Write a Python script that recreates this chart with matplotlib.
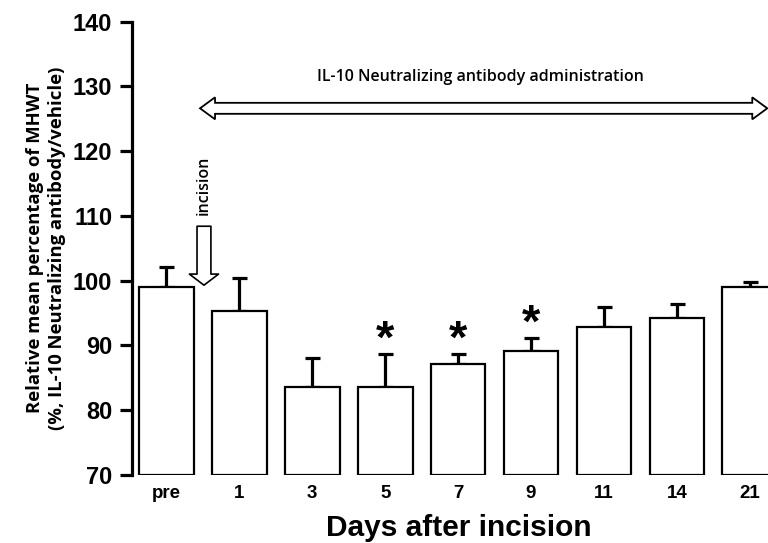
import matplotlib
matplotlib.use("Agg")
import matplotlib.pyplot as plt
from matplotlib.patches import FancyArrowPatch, ArrowStyle, Polygon
from matplotlib.transforms import IdentityTransform

# data
days = ["pre", "1", "3", "5", "7", "9", "11", "14", "21"]
mean_mhwt = [99.0, 95.3, 83.6, 83.6, 87.1, 89.1, 92.8, 94.2, 99.0]
sem_mhwt = [3.1, 5.1, 4.5, 5.1, 1.6, 2.0, 3.1, 2.2, 0.8]
significant = [False, False, False, True, True, True, False, False, False]
y_ticks = [70, 80, 90, 100, 110, 120, 130, 140]

plt.rcParams['font.family'] = ['Liberation Sans', 'DejaVu Sans']
calibri_like = ["Open Sans", "DejaVu Sans"]

fig = plt.figure(figsize=(7.68, 5.43), dpi=100)
ax = fig.add_axes([0.1715, 0.1252, 0.8285, 0.8352])

x = list(range(len(days)))
ax.bar(x, [m - 70 for m in mean_mhwt], bottom=70, width=0.75,
       color="white", edgecolor="black", linewidth=1.6, zorder=3)
ax.errorbar(x, mean_mhwt, yerr=[[0] * len(x), sem_mhwt], fmt="none",
            ecolor="black", elinewidth=2.3, capsize=5.4, capthick=2.3, zorder=2)

for i, sig in enumerate(significant):
    if sig:
        ax.text(x[i], mean_mhwt[i] + sem_mhwt[i] + 0.2, "*", ha="center",
                va="baseline", fontsize=34, fontweight="bold")

ax.set_xlim(-0.477, 8.25)
ax.set_ylim(70, 140)
ax.set_yticks(y_ticks)
ax.set_xticks(x)
ax.set_xticklabels(days)

for side in ["top", "right", "bottom"]:
    ax.spines[side].set_visible(False)
ax.spines["left"].set_linewidth(2.3)
ax.tick_params(axis="y", length=8.5, width=2.3, pad=5.5, labelsize=17)
ax.tick_params(axis="x", length=0, pad=7, labelsize=13.5)
for lab in ax.get_yticklabels() + ax.get_xticklabels():
    lab.set_fontweight("bold")

ax.set_xlabel("Days after incision", fontsize=21.5, fontweight="bold", labelpad=9)
ax.xaxis.label.set_x(0.514)
ax.set_ylabel("Relative mean percentage of MHWT\n(%, IL-10 Neutralizing antibody/vehicle)",
              fontsize=13.3, fontweight="bold", labelpad=5, linespacing=1.3,
              family=calibri_like)

# antibody administration double arrow, outline built in pixels
(x0, yc), (x1, _) = ax.transData.transform([(0.46, 126.6), (8.24, 126.6)])
hl, hw, tw = 15, 11, 5.5
verts = [(x0, yc), (x0 + hl, yc + hw), (x0 + hl, yc + tw), (x1 - hl, yc + tw),
         (x1 - hl, yc + hw), (x1, yc), (x1 - hl, yc - hw), (x1 - hl, yc - tw),
         (x0 + hl, yc - tw), (x0 + hl, yc - hw)]
admin = Polygon(verts, closed=True, transform=IdentityTransform(),
                facecolor="white", edgecolor="black", linewidth=1.3, zorder=4)
fig.add_artist(admin)
ax.text(4.3, 131.4, "IL-10 Neutralizing antibody administration", ha="center",
        va="center", fontsize=11.5, fontweight="semibold", family=calibri_like)

# incision arrow
incision = FancyArrowPatch((0.514, 108.4), (0.514, 99.3),
                           arrowstyle=ArrowStyle("simple", head_length=8, head_width=21, tail_width=10),
                           mutation_scale=1, shrinkA=0, shrinkB=0,
                           facecolor="white", edgecolor="black", linewidth=1.2, zorder=4)
ax.add_patch(incision)
ax.text(0.514, 114.7, "incision", rotation=90, ha="center", va="center",
        fontsize=11.5, fontweight="semibold", family=calibri_like)

fig.savefig("out.png", dpi=100)
